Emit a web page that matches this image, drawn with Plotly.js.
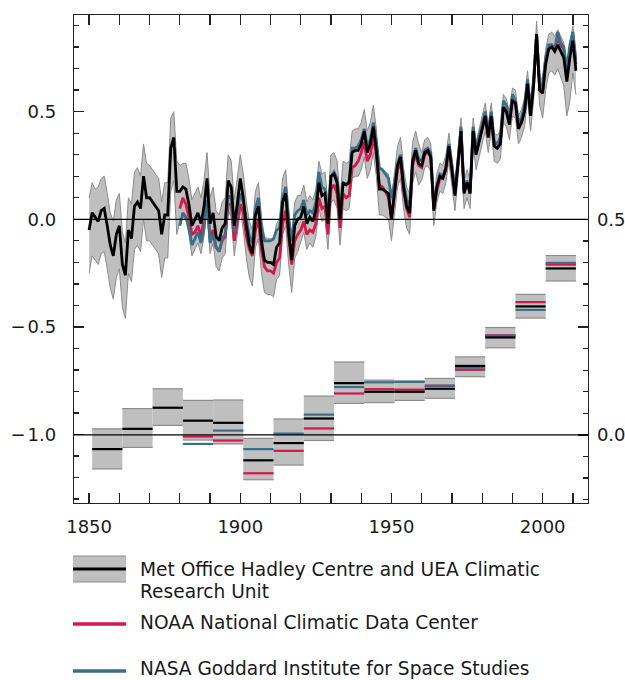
<!DOCTYPE html>
<html>
<head>
<meta charset="utf-8">
<script src="https://cdn.plot.ly/plotly-3.0.1.min.js"></script>
<style>html,body{margin:0;padding:0;background:#fff;}#chart{width:625px;height:680px;}</style>
</head>
<body>
<div id="chart"></div>
<script>
// ---- Annual series (left axis), HadCRUT4 from 1850, NOAA & GISS from 1880 ----
const hadStart = 1850;
const hadAnnual = [
 -0.05, 0.03, 0.01, -0.01, 0.04, 0.05, -0.03, -0.12, -0.17, -0.07,
 -0.03, -0.21, -0.26, -0.05, -0.09, 0.06, 0.08, 0.05, 0.20, 0.10,
 0.10, 0.08, 0.06, 0.04, -0.07, 0.02, 0.02, 0.33, 0.38, 0.13,
 0.13, 0.15, 0.14, 0.07, -0.03, 0.00, 0.03, -0.02, 0.06, 0.19,
 -0.02, 0.03, -0.08, -0.10, -0.04, -0.02, 0.18, 0.15, -0.03, 0.07,
 0.19, 0.10, -0.03, -0.12, -0.16, 0.02, 0.06, -0.10, -0.19, -0.20,
 -0.20, -0.21, -0.13, -0.11, 0.08, 0.12, -0.06, -0.19, -0.03, 0.00,
 0.01, 0.06, -0.02, 0.01, -0.01, 0.04, 0.17, 0.11, 0.12, -0.02,
 0.20, 0.21, 0.17, 0.00, 0.17, 0.16, 0.17, 0.31, 0.32, 0.32,
 0.35, 0.41, 0.31, 0.35, 0.43, 0.32, 0.14, 0.14, 0.13, 0.12,
 0.00, 0.14, 0.25, 0.29, 0.15, 0.06, 0.03, 0.27, 0.32, 0.26,
 0.25, 0.31, 0.32, 0.29, 0.04, 0.15, 0.20, 0.19, 0.24, 0.34,
 0.23, 0.11, 0.26, 0.41, 0.12, 0.17, 0.12, 0.41, 0.30, 0.36,
 0.41, 0.48, 0.38, 0.48, 0.34, 0.33, 0.35, 0.52, 0.50, 0.44,
 0.55, 0.54, 0.42, 0.45, 0.50, 0.63, 0.48, 0.62, 0.86, 0.60,
 0.585, 0.72, 0.79, 0.80, 0.78, 0.81, 0.78, 0.75, 0.64, 0.75,
 0.83, 0.69
];
const hadUpper = [
 0.10, 0.17, 0.14, 0.15, 0.19, 0.20, 0.12, 0.03, -0.01, 0.09,
 0.12, -0.06, -0.11, 0.10, 0.07, 0.22, 0.24, 0.20, 0.35, 0.26,
 0.25, 0.23, 0.21, 0.19, 0.08, 0.17, 0.17, 0.47, 0.50, 0.27,
 0.25, 0.26, 0.26, 0.19, 0.09, 0.12, 0.15, 0.10, 0.18, 0.31,
 0.10, 0.15, 0.04, 0.02, 0.08, 0.10, 0.30, 0.27, 0.09, 0.19,
 0.30, 0.21, 0.08, -0.01, -0.05, 0.13, 0.17, 0.01, -0.08, -0.09,
 -0.09, -0.10, -0.02, 0.00, 0.19, 0.23, 0.05, -0.08, 0.08, 0.11,
 0.11, 0.16, 0.08, 0.11, 0.09, 0.14, 0.27, 0.21, 0.22, 0.08,
 0.30, 0.31, 0.27, 0.10, 0.27, 0.26, 0.27, 0.41, 0.42, 0.42,
 0.45, 0.51, 0.41, 0.45, 0.53, 0.42, 0.23, 0.23, 0.22, 0.21,
 0.09, 0.23, 0.34, 0.38, 0.24, 0.15, 0.12, 0.36, 0.41, 0.35,
 0.31, 0.37, 0.38, 0.35, 0.10, 0.21, 0.26, 0.25, 0.30, 0.40,
 0.29, 0.17, 0.32, 0.47, 0.18, 0.23, 0.18, 0.47, 0.36, 0.42,
 0.47, 0.54, 0.44, 0.54, 0.40, 0.39, 0.41, 0.58, 0.56, 0.50,
 0.61, 0.60, 0.48, 0.51, 0.56, 0.69, 0.54, 0.68, 0.92, 0.66,
 0.655, 0.79, 0.86, 0.87, 0.85, 0.88, 0.85, 0.82, 0.71, 0.82,
 0.90, 0.76
];
const hadLower = [
 -0.25, -0.17, -0.19, -0.21, -0.16, -0.15, -0.23, -0.32, -0.37, -0.27,
 -0.23, -0.41, -0.46, -0.25, -0.29, -0.14, -0.12, -0.15, 0.00, -0.10,
 -0.10, -0.12, -0.14, -0.16, -0.27, -0.18, -0.18, 0.13, 0.18, -0.07,
 -0.01, 0.01, 0.00, -0.07, -0.17, -0.14, -0.11, -0.16, -0.08, 0.05,
 -0.16, -0.11, -0.22, -0.24, -0.18, -0.16, 0.04, 0.01, -0.17, -0.07,
 0.04, -0.05, -0.18, -0.27, -0.31, -0.13, -0.09, -0.25, -0.34, -0.35,
 -0.35, -0.36, -0.28, -0.26, -0.07, -0.03, -0.21, -0.34, -0.18, -0.15,
 -0.11, -0.06, -0.14, -0.11, -0.13, -0.08, 0.05, -0.01, 0.00, -0.14,
 0.08, 0.09, 0.05, -0.12, 0.05, 0.04, 0.05, 0.19, 0.20, 0.20,
 0.23, 0.29, 0.19, 0.23, 0.31, 0.20, 0.02, 0.02, 0.01, 0.00,
 -0.10, 0.04, 0.15, 0.19, 0.05, -0.04, -0.07, 0.17, 0.22, 0.16,
 0.18, 0.24, 0.25, 0.22, -0.03, 0.08, 0.13, 0.12, 0.17, 0.27,
 0.16, 0.04, 0.19, 0.34, 0.05, 0.10, 0.05, 0.34, 0.23, 0.29,
 0.34, 0.41, 0.31, 0.41, 0.27, 0.26, 0.28, 0.45, 0.43, 0.37,
 0.48, 0.47, 0.35, 0.38, 0.43, 0.56, 0.41, 0.55, 0.79, 0.53,
 0.47, 0.60, 0.68, 0.69, 0.67, 0.70, 0.66, 0.62, 0.48, 0.55,
 0.68, 0.58
];
const otherStart = 1880;
const noaaAnnual = [
 0.05, 0.10, 0.07, 0.01, -0.07, -0.06, -0.03, -0.08, 0.00, 0.08,
 -0.09, -0.05, -0.13, -0.15, -0.10, -0.08, 0.07, 0.07, -0.10, -0.02,
 0.07, 0.03, -0.08, -0.14, -0.17, -0.05, 0.00, -0.14, -0.22, -0.24,
 -0.24, -0.25, -0.20, -0.18, -0.02, 0.04, -0.10, -0.21, -0.10, -0.07,
 -0.05, -0.01, -0.07, -0.05, -0.06, -0.02, 0.10, 0.05, 0.06, -0.07,
 0.14, 0.16, 0.12, -0.04, 0.12, 0.10, 0.11, 0.24, 0.25, 0.27,
 0.31, 0.36, 0.27, 0.30, 0.38, 0.30, 0.16, 0.15, 0.13, 0.10,
 0.00, 0.12, 0.23, 0.27, 0.13, 0.05, 0.01, 0.25, 0.30, 0.25,
 0.24, 0.30, 0.31, 0.29, 0.05, 0.13, 0.19, 0.19, 0.23, 0.34,
 0.23, 0.12, 0.26, 0.42, 0.13, 0.17, 0.12, 0.42, 0.31, 0.37,
 0.42, 0.47, 0.39, 0.49, 0.34, 0.33, 0.36, 0.52, 0.51, 0.45,
 0.56, 0.54, 0.43, 0.45, 0.51, 0.64, 0.50, 0.65, 0.86, 0.61,
 0.60, 0.74, 0.80, 0.81, 0.79, 0.84, 0.81, 0.79, 0.67, 0.78,
 0.85, 0.72
];
const gissAnnual = [
 -0.03, 0.03, 0.01, -0.04, -0.12, -0.09, -0.06, -0.11, -0.04, 0.09,
 -0.11, -0.07, -0.13, -0.15, -0.09, -0.07, 0.11, 0.10, -0.06, 0.03,
 0.12, 0.08, -0.01, -0.08, -0.11, 0.05, 0.10, -0.04, -0.10, -0.10,
 -0.10, -0.09, -0.05, -0.04, 0.10, 0.15, 0.00, -0.10, 0.02, 0.04,
 0.05, 0.09, 0.02, 0.04, 0.03, 0.08, 0.22, 0.15, 0.14, 0.01,
 0.20, 0.22, 0.19, 0.04, 0.17, 0.16, 0.18, 0.33, 0.33, 0.34,
 0.37, 0.42, 0.34, 0.37, 0.45, 0.36, 0.24, 0.23, 0.21, 0.19,
 0.10, 0.17, 0.26, 0.30, 0.17, 0.09, 0.06, 0.28, 0.33, 0.28,
 0.27, 0.32, 0.33, 0.31, 0.06, 0.15, 0.21, 0.20, 0.24, 0.35,
 0.25, 0.13, 0.27, 0.43, 0.14, 0.18, 0.13, 0.43, 0.33, 0.38,
 0.44, 0.50, 0.40, 0.50, 0.36, 0.35, 0.38, 0.55, 0.53, 0.46,
 0.58, 0.55, 0.45, 0.47, 0.53, 0.65, 0.52, 0.63, 0.86, 0.63,
 0.62, 0.75, 0.81, 0.81, 0.79, 0.87, 0.82, 0.80, 0.70, 0.81,
 0.87, 0.74
];

// ---- Decadal means (right axis) ----
const decStart = [1851,1861,1871,1881,1891,1901,1911,1921,1931,1941,1951,1961,1971,1981,1991,2001];
const hadDec   = [-0.033, 0.014, 0.063, 0.033, 0.028, -0.059, -0.019, 0.038, 0.120, 0.100, 0.100, 0.107, 0.160, 0.226, 0.298, 0.386];
const hadDecLo = [-0.079, -0.029, 0.022, -0.012, -0.021, -0.104, -0.070, -0.013, 0.073, 0.075, 0.080, 0.085, 0.135, 0.202, 0.271, 0.357];
const hadDecHi = [0.014, 0.061, 0.107, 0.080, 0.081, -0.008, 0.037, 0.090, 0.169, 0.127, 0.125, 0.131, 0.181, 0.249, 0.326, 0.416];
const otherDecStart = [1881,1891,1901,1911,1921,1931,1941,1951,1961,1971,1981,1991,2001];
const noaaDec = [-0.004, -0.013, -0.089, -0.037, 0.015, 0.096, 0.106, 0.105, 0.114, 0.151, 0.231, 0.308, 0.395];
const gissDec = [-0.021, 0.010, -0.033, 0.003, 0.047, 0.111, 0.122, 0.123, 0.114, 0.156, 0.230, 0.290, 0.399];
const decLen = 10;

// ---- Axis ticks ----
const xTickVals = [1850, 1900, 1950, 2000];
const yTickVals = [-1, -0.5, 0, 0.5];
const yTickText = ['\u2212\u200A1.0', '\u2212\u200A0.5', '0.0', '0.5'];
const y2TickVals = [0, 0.25, 0.5, 0.75];
const y2TickText = ['0.0', '', '0.5', ''];

// ---- Legend ----
const legendNames = ['Met Office Hadley Centre and UEA Climatic', 'Research Unit', 'NOAA National Climatic Data Center', 'NASA Goddard Institute for Space Studies'];

const C_BLACK = '#000000', C_RED = '#d4174c', C_BLUE = '#3a6f88';
const C_FILL = '#bfbfbf', C_EDGE = '#8c8c8c';

const hadYears = hadAnnual.map((_, i) => hadStart + i);
const otherYears = noaaAnnual.map((_, i) => otherStart + i);

function segs(starts, vals) {
  const x = [], y = [];
  starts.forEach((s, i) => { x.push(s, s + decLen, null); y.push(vals[i], vals[i], null); });
  return {x, y};
}

const traces = [];
// annual band
traces.push({x: hadYears, y: hadLower, type: 'scatter', mode: 'lines', line: {color: C_EDGE, width: 1}, hoverinfo: 'skip'});
traces.push({x: hadYears, y: hadUpper, type: 'scatter', mode: 'lines', fill: 'tonexty', fillcolor: C_FILL, line: {color: C_EDGE, width: 1}, hoverinfo: 'skip'});
traces.push({x: otherYears, y: noaaAnnual, type: 'scatter', mode: 'lines', line: {color: C_RED, width: 2.8}});
traces.push({x: otherYears, y: gissAnnual, type: 'scatter', mode: 'lines', line: {color: C_BLUE, width: 2.8}});
traces.push({x: hadYears, y: hadAnnual, type: 'scatter', mode: 'lines', line: {color: C_BLACK, width: 2.8}});

// decadal boxes
traces.push({
  type: 'bar', yaxis: 'y2',
  x: decStart.map(s => s + decLen / 2),
  base: hadDecLo,
  y: hadDecHi.map((h, i) => h - hadDecLo[i]),
  width: decLen, marker: {color: C_FILL, line: {width: 0}}, hoverinfo: 'skip'
});
const hiS = segs(decStart, hadDecHi), loS = segs(decStart, hadDecLo);
traces.push({x: hiS.x, y: hiS.y, yaxis: 'y2', type: 'scatter', mode: 'lines', line: {color: C_EDGE, width: 1.2}});
traces.push({x: loS.x, y: loS.y, yaxis: 'y2', type: 'scatter', mode: 'lines', line: {color: C_EDGE, width: 1.2}});
const nS = segs(otherDecStart, noaaDec), gS = segs(otherDecStart, gissDec), hS = segs(decStart, hadDec);
traces.push({x: nS.x, y: nS.y, yaxis: 'y2', type: 'scatter', mode: 'lines', line: {color: C_RED, width: 2.2}});
traces.push({x: gS.x, y: gS.y, yaxis: 'y2', type: 'scatter', mode: 'lines', line: {color: C_BLUE, width: 2.2}});
traces.push({x: hS.x, y: hS.y, yaxis: 'y2', type: 'scatter', mode: 'lines', line: {color: C_BLACK, width: 2.2}});

const AX = '#222222';
const tickFont = {family: 'DejaVu Sans, Verdana, sans-serif', size: 18, color: '#1a1a1a'};
const legFont = {family: 'DejaVu Sans, Verdana, sans-serif', size: 18.6, color: '#1a1a1a'};

// pixel helpers for legend (paper coords)
const L = 74, R = 588, T = 15, B = 503;
const px = v => (v - L) / (R - L);
const py = v => (B - v) / (B - T);

const layout = {
  width: 625, height: 680,
  margin: {l: L, r: 625 - R, t: T, b: 680 - B, pad: 0},
  paper_bgcolor: '#ffffff', plot_bgcolor: 'rgba(0,0,0,0)',
  showlegend: false,
  font: tickFont,
  xaxis: {
    range: [1845, 2015], tickmode: 'array', tickvals: xTickVals, ticktext: xTickVals.map(String),
    ticks: 'inside', ticklen: 10, tickwidth: 1.3, tickcolor: AX,
    minor: {tickmode: 'linear', tick0: 1850, dtick: 10, ticks: 'inside', ticklen: 5, tickwidth: 1.3, tickcolor: AX},
    showline: true, linecolor: AX, linewidth: 1.3, mirror: 'allticks',
    showgrid: false, zeroline: false, ticklabelstandoff: 7, tickfont: tickFont
  },
  yaxis: {
    range: [-1.318, 0.949], tickmode: 'array', tickvals: yTickVals, ticktext: yTickText,
    ticks: 'inside', ticklen: 10, tickwidth: 1.3, tickcolor: AX,
    minor: {tickmode: 'linear', tick0: 0, dtick: 0.1, ticks: 'inside', ticklen: 5, tickwidth: 1.3, tickcolor: AX},
    showline: true, linecolor: AX, linewidth: 1.3,
    showgrid: false, zeroline: false, ticklabelstandoff: 13, tickfont: tickFont
  },
  yaxis2: {
    overlaying: 'y', side: 'right',
    range: [-0.158, 0.974], tickmode: 'array', tickvals: y2TickVals, ticktext: y2TickText,
    ticks: 'inside', ticklen: 10, tickwidth: 1.3, tickcolor: AX,
    minor: {tickmode: 'linear', tick0: 0, dtick: 0.05, ticks: 'inside', ticklen: 5, tickwidth: 1.3, tickcolor: AX},
    showline: true, linecolor: AX, linewidth: 1.3,
    showgrid: false, zeroline: false, ticklabelstandoff: 4, tickfont: tickFont
  },
  shapes: [
    {type: 'line', xref: 'paper', yref: 'y', x0: 0, x1: 1, y0: 0, y1: 0, line: {color: '#000', width: 1.2}, layer: 'above'},
    {type: 'line', xref: 'paper', yref: 'y2', x0: 0, x1: 1, y0: 0, y1: 0, line: {color: '#000', width: 1.2}, layer: 'above'},
    // legend symbols
    {type: 'rect', xref: 'paper', yref: 'paper', x0: px(73), x1: px(126), y0: py(582), y1: py(556), fillcolor: C_FILL, line: {width: 0}},
    {type: 'line', xref: 'paper', yref: 'paper', x0: px(73), x1: px(126), y0: py(556), y1: py(556), line: {color: C_EDGE, width: 1.2}},
    {type: 'line', xref: 'paper', yref: 'paper', x0: px(73), x1: px(126), y0: py(582), y1: py(582), line: {color: C_EDGE, width: 1.2}},
    {type: 'line', xref: 'paper', yref: 'paper', x0: px(73), x1: px(126), y0: py(569), y1: py(569), line: {color: C_BLACK, width: 3}},
    {type: 'line', xref: 'paper', yref: 'paper', x0: px(73), x1: px(126), y0: py(624), y1: py(624), line: {color: C_RED, width: 3.5}},
    {type: 'line', xref: 'paper', yref: 'paper', x0: px(73), x1: px(126), y0: py(671), y1: py(671), line: {color: C_BLUE, width: 3.5}}
  ],
  annotations: [
    {xref: 'paper', yref: 'paper', x: px(138), y: py(569), xanchor: 'left', yanchor: 'middle', text: legendNames[0], showarrow: false, font: legFont},
    {xref: 'paper', yref: 'paper', x: px(138), y: py(591), xanchor: 'left', yanchor: 'middle', text: legendNames[1], showarrow: false, font: legFont},
    {xref: 'paper', yref: 'paper', x: px(138), y: py(622), xanchor: 'left', yanchor: 'middle', text: legendNames[2], showarrow: false, font: legFont},
    {xref: 'paper', yref: 'paper', x: px(138), y: py(668), xanchor: 'left', yanchor: 'middle', text: legendNames[3], showarrow: false, font: legFont}
  ]
};

Plotly.newPlot('chart', traces, layout, {displayModeBar: false, staticPlot: true});
</script>
</body>
</html>
